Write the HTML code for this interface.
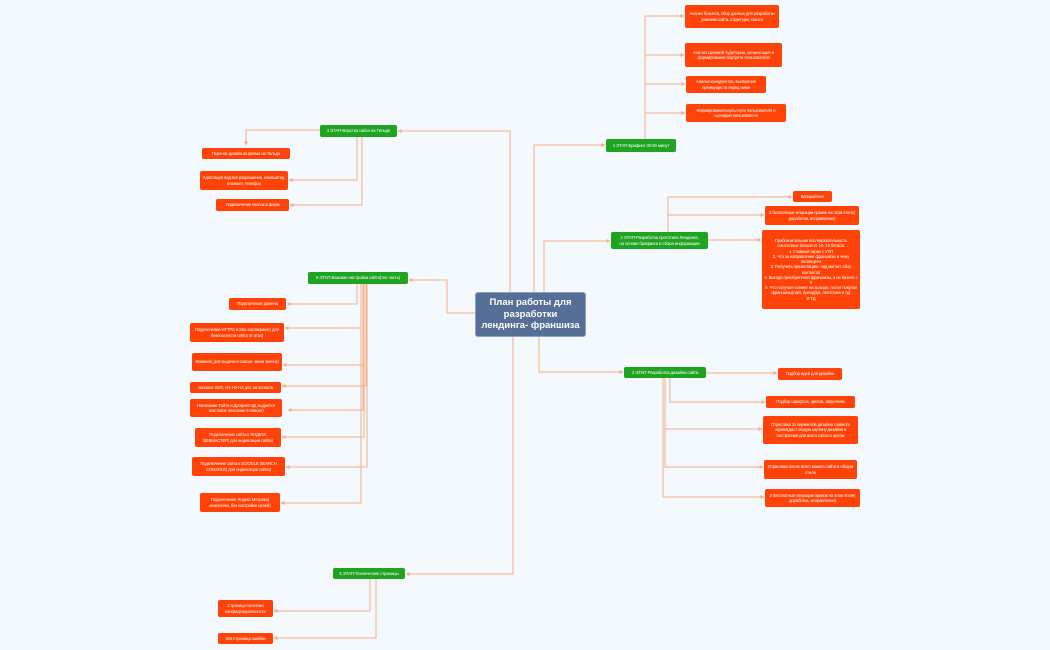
<!DOCTYPE html>
<html><head><meta charset="utf-8">
<style>
body{margin:0;width:1050px;height:650px;background:#f4f9fd;position:relative;overflow:hidden;font-family:"Liberation Sans","Noto Sans CJK SC",sans-serif}
.n{position:absolute;display:flex;align-items:center;justify-content:center;text-align:center;color:#fff;font-size:4.2px;line-height:5.4px;border-radius:2px;box-sizing:border-box;padding:0 2px;letter-spacing:-0.1px}
.o{background:#ff4208}
.g{background:#1ea421;font-size:4.3px}
.nw{white-space:nowrap}
.c{background:#566f96;font-size:9.5px;line-height:11.5px;border-radius:3px;border:1px solid #8ea0bd;font-weight:bold;letter-spacing:0}
svg{position:absolute;left:0;top:0}
</style></head><body>
<svg width="1050" height="650" fill="none" stroke="#f6ad86" stroke-width="1">
<defs><marker id="a" markerWidth="4" markerHeight="4" refX="3.5" refY="2" orient="auto"><path d="M0,0L4,2L0,4z" fill="#f6ad86" stroke="none"/></marker></defs>
<path d="M510,292V131H398" marker-end="url(#a)"/>
<path d="M534,292V145H605" marker-end="url(#a)"/>
<path d="M544,292V241H610" marker-end="url(#a)"/>
<path d="M539,337V372H623" marker-end="url(#a)"/>
<path d="M513,337V574H406" marker-end="url(#a)"/>
<path d="M475,313H447V280H409" marker-end="url(#a)"/>
<path d="M645,139V16H684" marker-end="url(#a)"/>
<path d="M645,55H684" marker-end="url(#a)"/>
<path d="M645,84H685" marker-end="url(#a)"/>
<path d="M645,113H685" marker-end="url(#a)"/>
<path d="M668,232V197H792" marker-end="url(#a)"/>
<path d="M668,215H764" marker-end="url(#a)"/>
<path d="M708,240H761" marker-end="url(#a)"/>
<path d="M706,373H777" marker-end="url(#a)"/>
<path d="M670,378V402H765" marker-end="url(#a)"/>
<path d="M665,378V429H762" marker-end="url(#a)"/>
<path d="M665,378V467H763" marker-end="url(#a)"/>
<path d="M663,378V497H764" marker-end="url(#a)"/>
<path d="M320,130H246V145" marker-end="url(#a)"/>
<path d="M357,137V180H289" marker-end="url(#a)"/>
<path d="M362,137V205H290" marker-end="url(#a)"/>
<path d="M357,284V304H287" marker-end="url(#a)"/>
<path d="M361,284V328H285" marker-end="url(#a)"/>
<path d="M364,284V365H283" marker-end="url(#a)"/>
<path d="M366,284V386H282" marker-end="url(#a)"/>
<path d="M363,284V410H288" marker-end="url(#a)"/>
<path d="M364,284V437H282" marker-end="url(#a)"/>
<path d="M367,284V467H286" marker-end="url(#a)"/>
<path d="M361,284V503H281" marker-end="url(#a)"/>
<path d="M370,579V611H274" marker-end="url(#a)"/>
<path d="M376,579V638H274" marker-end="url(#a)"/>
</svg>

<div class="n c" style="left:475px;top:292px;width:111px;height:45px">План работы для<br>разработки<br>лендинга- франшиза</div>

<div class="n g nw" style="left:606px;top:139px;width:70px;height:13px">1 ЭТАП-Брифинг 30-60 минут</div>
<div class="n o" style="left:685px;top:5px;width:94px;height:23px">Анализ бизнеса, сбор данных для разработки уникаим сайта, структуры, смысл</div>
<div class="n o" style="left:685px;top:43px;width:97px;height:24px">Анализ Целевой Аудитории, сегментация и формирования портрета пользователя</div>
<div class="n o" style="left:686px;top:76px;width:80px;height:17px">Анализ конкурентов, выявление преимуществ перед ними</div>
<div class="n o" style="left:686px;top:104px;width:100px;height:18px">Формирования карты пути пользователя и сценария пользователя</div>

<div class="n g" style="left:611px;top:232px;width:97px;height:17px">2 ЭТАП-Разработка прототипа Лендинга,<br>на основе брифинга и сбора информации</div>
<div class="n o" style="left:793px;top:191px;width:39px;height:11px">Копирайтинг</div>
<div class="n o" style="left:765px;top:206px;width:94px;height:19px">2 бесплатные итерации правок на этом этапе( доработка, исправления)</div>
<div class="n o" style="left:762px;top:230px;width:98px;height:79px;line-height:5.2px">Приблизительная последовательность смысловых блоков от 10- 15 блоков:<br>1. Главный экран с УТП<br>2. Что за направление франшизы и чему посвящена<br>3. Получить презентацию- лид магнит, сбор контактов<br>4. Выгода преобретения франшизы, а не бизнес с 0<br>5. Что получает клиент на выходе, после покупки франшизы(сайт, брендбук, логистика и тд)<br>И ТД</div>

<div class="n g nw" style="left:624px;top:367px;width:82px;height:11px">3 ЭТАП-Разработка дизайна сайта</div>
<div class="n o" style="left:778px;top:368px;width:64px;height:12px">Подбор идей для дизайна</div>
<div class="n o" style="left:766px;top:396px;width:89px;height:12px">Подбор шрифтов, цветов, айдентики</div>
<div class="n o" style="left:763px;top:416px;width:95px;height:28px">Отрисовка 2х вариантов дизайна главного экрана(даст общую картину дизайна и настроения для всего сайта в целом</div>
<div class="n o" style="left:764px;top:460px;width:93px;height:19px">Отрисовка после всего макета сайта в общем стиле</div>
<div class="n o" style="left:765px;top:489px;width:95px;height:18px">2 бесплатные итерации правок на этом этапе( доработка, исправления)</div>

<div class="n g nw" style="left:320px;top:125px;width:77px;height:12px">4 ЭТАП-Верстка сайта на Тильде</div>
<div class="n o" style="left:202px;top:148px;width:88px;height:11px">Перенос дизайн из фигма на Тильда</div>
<div class="n o" style="left:200px;top:171px;width:88px;height:19px">Адаптация под все разрешения, компьютер, планшет, телефон</div>
<div class="n o" style="left:216px;top:199px;width:73px;height:12px">Подключение кнопок и форм</div>

<div class="n g nw" style="left:308px;top:272px;width:100px;height:12px">6 ЭТАП-Базовая настройка сайта(тех часть)</div>
<div class="n o" style="left:229px;top:298px;width:57px;height:12px">Подключение домена</div>
<div class="n o" style="left:190px;top:323px;width:94px;height:19px">Подключение HTTPS и SSL-сертификат( для безопасности сайта от атак)</div>
<div class="n o" style="left:192px;top:353px;width:90px;height:18px">Фавикон( для выдачи в поиске- мини значок)</div>
<div class="n o nw" style="left:190px;top:382px;width:91px;height:11px">Базовое SEO, H1-H2-H3 для заголовков</div>
<div class="n o" style="left:190px;top:399px;width:92px;height:18px">Написание Тайтл и Дескриптор( выдается текстовое описание в поиске)</div>
<div class="n o" style="left:195px;top:428px;width:86px;height:19px">Подключение сайта к ЯНДЕКС ВЕБМАСТЕР( для индексации сайта)</div>
<div class="n o" style="left:192px;top:457px;width:93px;height:19px">Подключение сайта к GOOGLE SEARCH CONSOLE( для индексации сайта)</div>
<div class="n o" style="left:200px;top:493px;width:80px;height:19px">Подключение Яндекс.Метрика( аналитика, без настройки целей)</div>

<div class="n g nw" style="left:333px;top:568px;width:72px;height:11px">5 ЭТАП-Технические страницы</div>
<div class="n o" style="left:218px;top:600px;width:55px;height:17px">Страница политики конфиденциальности</div>
<div class="n o nw" style="left:218px;top:633px;width:55px;height:11px">404-страница ошибки</div>
</body></html>
